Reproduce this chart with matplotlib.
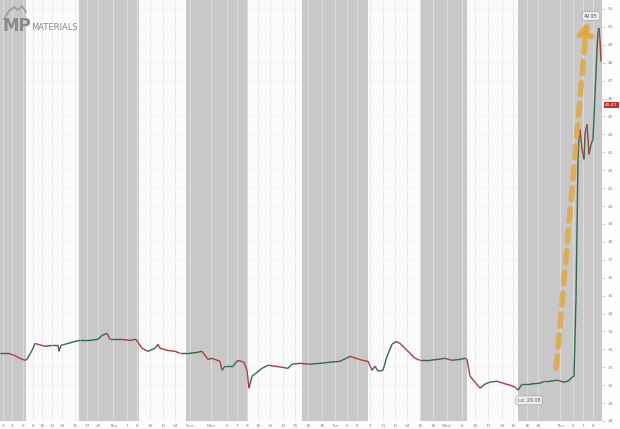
import numpy as np
import matplotlib.pyplot as plt
from matplotlib.collections import LineCollection
from matplotlib.patches import FancyArrowPatch

# bar index (time axis) and price
t = [0, 8, 14, 20, 25, 27, 32, 35, 38, 45, 52, 58, 59, 61, 68, 75, 80, 90, 98, 102,
     107, 110, 120, 130, 136, 138, 142, 148, 155, 158, 160, 168, 175, 180, 190, 197,
     202, 208, 212, 220, 222, 225, 233, 238, 244, 247, 249, 252, 256, 262, 268, 275,
     282, 288, 292, 300, 310, 320, 330, 340, 350, 356, 362, 368, 372, 375, 378, 383,
     387, 392, 396, 400, 405, 410, 415, 420, 430, 438, 445, 452, 460, 465, 467, 470,
     475, 480, 485, 490, 497, 503, 510, 515, 518, 522, 530, 540, 545, 550, 558, 563,
     568, 572, 574, 576, 577, 578, 579, 580, 582, 584, 585, 587, 589, 591, 593, 595,
     597, 598, 599, 600, 601]
price = [31.78, 31.78, 31.67, 31.50, 31.39, 31.44, 31.94, 32.33, 32.28, 32.17, 32.22,
         32.22, 31.89, 32.22, 32.33, 32.44, 32.50, 32.50, 32.56, 32.78, 32.89, 32.56,
         32.56, 32.50, 32.56, 32.39, 32.06, 31.89, 32.06, 32.28, 32.06, 31.94, 31.89,
         31.78, 31.78, 31.83, 31.89, 31.44, 31.50, 31.33, 30.83, 31.06, 31.06, 31.39,
         31.28, 30.83, 29.83, 30.50, 30.67, 30.94, 31.11, 31.06, 31.00, 30.94, 31.17,
         31.22, 31.17, 31.22, 31.28, 31.33, 31.61, 31.50, 31.39, 31.33, 30.83, 31.06,
         30.78, 30.83, 31.61, 32.28, 32.44, 32.33, 32.06, 31.78, 31.50, 31.39, 31.39,
         31.44, 31.50, 31.39, 31.44, 31.50, 31.44, 30.50, 30.17, 29.83, 30.06, 30.17,
         30.22, 30.11, 30.00, 29.89, 29.72, 30.06, 30.06, 30.11, 30.22, 30.22, 30.28,
         30.17, 30.22, 30.44, 30.50, 34.83, 38.72, 42.61, 43.72, 44.28, 43.17, 42.61,
         44.00, 44.56, 42.89, 43.44, 43.72, 46.22, 48.72, 49.67, 49.94, 49.28, 48.06]

band_edges = [0, 26, 79, 139, 186, 248, 302, 368, 420, 467, 518, 602]
tick_pos = [3, 12, 23, 33, 42, 52, 62, 75, 87, 98, 113, 127, 137, 150, 163, 175, 190,
            211, 227, 237, 247, 258, 270, 283, 295, 308, 322, 335, 347, 357, 370, 383,
            395, 407, 420, 433, 447, 462, 475, 488, 502, 513, 527, 538, 560, 573, 583, 593]
tick_lab = ['2', '4', '6', '8', '10', '11', '13', '15', '17', '20', 'Thu', '7', '8',
            '10', '12', '14', 'Sun', 'Mon', '6', '7', '8', '10', '12', '13', '15', '16',
            '16', 'Tue', '6', '8', '9', '11', '12', '14', '15', '18', 'Wed', '6', '10',
            '11', '13', '15', '16', '18', 'Thu', '6', '7', '8']
y_ticks = list(range(28, 52))

fig = plt.figure(figsize=(6.2, 4.29), dpi=100)
fig.patch.set_facecolor('#fdfdfd')
ax = fig.add_axes([0, 8 / 429, 602 / 620, 421 / 429])
ax.set_facecolor('#fbfbfb')

# alternating day bands
for i in range(len(band_edges) - 1):
    if i % 2 == 0:
        ax.axvspan(band_edges[i], band_edges[i + 1], color='#c8c8c8', lw=0, zorder=0)
for x in tick_pos:
    ax.axvline(x, color='#e6e6e6', lw=0.5, zorder=0.5)
for y in y_ticks:
    ax.axhline(y, color='#d2d2d2', lw=0.3, zorder=0.4, alpha=0.4)

# price line, coloured by direction
pts = np.column_stack([t, price])
segs = np.stack([pts[:-1], pts[1:]], axis=1)
d = np.diff(price)
cols = ['#2f6a4a' if v >= 0 else '#b8393a' for v in d]
ax.add_collection(LineCollection(segs, colors=cols, linewidths=1.0, zorder=3))

# dashed arrow
arr = FancyArrowPatch((556, 30.8), (587, 50.4), arrowstyle='-|>,head_width=3.2,head_length=4.5',
                      mutation_scale=1.4, lw=4, linestyle=(0, (2.2, 1.6)),
                      color='#e3a63a', alpha=0.8, zorder=4)
ax.add_patch(arr)

# hi / lo labels
ax.text(529, 29.15, 'Lo: 29.08', fontsize=3.5, color='#555555', ha='center', va='center',
        bbox=dict(boxstyle='round,pad=0.4', fc='#eeeeee', ec='#999999', lw=0.4), zorder=5)
ax.text(591, 50.6, '49.95', fontsize=3.5, color='#555555', ha='center', va='center',
        bbox=dict(boxstyle='round,pad=0.4', fc='#eeeeee', ec='#999999', lw=0.4), zorder=5)

ax.set_xlim(0, 602)
ax.set_ylim(28.1, 51.5)
ax.yaxis.tick_right()
ax.set_yticks(y_ticks)
ax.set_yticklabels([str(v) for v in y_ticks], fontsize=3.2, color='#888888')
ax.tick_params(axis='y', length=2, width=0.4, color='#aaaaaa', pad=2)
ax.set_xticks(tick_pos)
ax.set_xticklabels(tick_lab, fontsize=3.2, color='#888888')
ax.tick_params(axis='x', length=0, pad=2)
for s in ax.spines.values():
    s.set_visible(False)

# last price tag
ax.text(1.005, (45.67 - 28.1) / (51.5 - 28.1), '45.67', transform=ax.transAxes,
        fontsize=3.2, color='white', ha='left', va='center', clip_on=False,
        bbox=dict(boxstyle='square,pad=0.3', fc='#c0312f', ec='none'), zorder=6)

# logo
fig.text(3 / 620, 1 - 26 / 429, 'MP', fontsize=12, fontweight='bold', color='#8a8a8a',
         ha='left', va='center')
fig.text(31 / 620, 1 - 27 / 429, 'MATERIALS', fontsize=6, color='#8a8a8a',
         ha='left', va='center')
mx = np.array([4, 9, 14, 18, 22, 26])
my = np.array([19, 11, 7, 10, 6, 12])
fig.add_artist(plt.Line2D(mx / 620, 1 - my / 429, color='#9a9a9a', lw=1.2))

fig.savefig('out.png', dpi=100)
